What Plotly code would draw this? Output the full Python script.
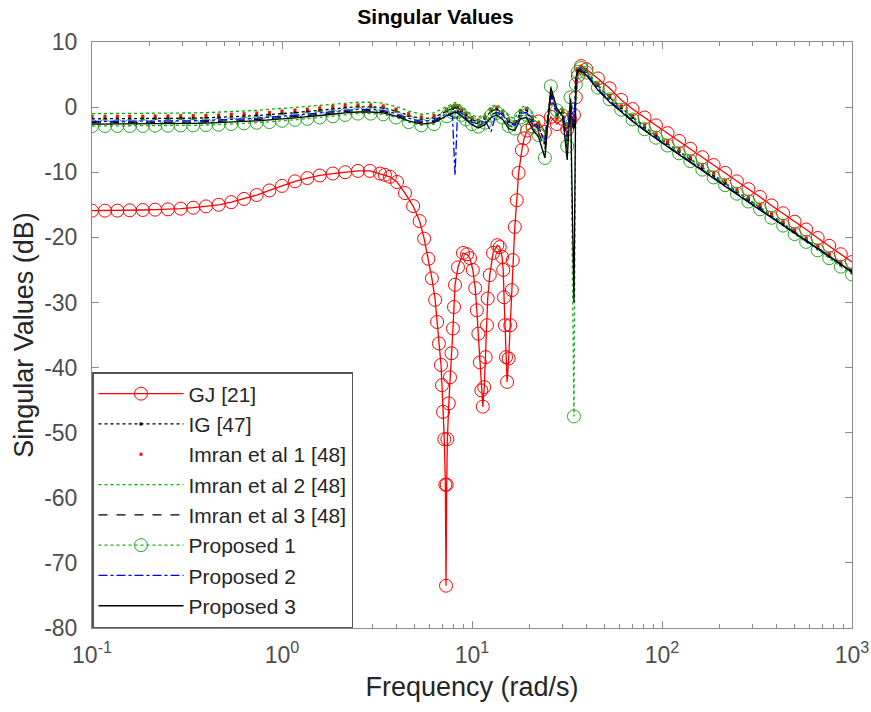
import plotly.graph_objects as go

# ---------------- data ----------------
# GJ [21]
w_gj = [0.1, 0.117, 0.136, 0.158, 0.185, 0.215, 0.251, 0.293, 0.341, 0.398, 0.464, 0.541, 0.631, 0.736, 0.858, 1.0,
        1.17, 1.36, 1.58, 1.85, 2.15, 2.51, 2.9, 3.28, 3.48, 3.7, 4.03, 4.44, 4.9, 5.3, 5.6, 5.9, 6.15, 6.4, 6.55,
        6.7, 6.87, 6.95, 7.04, 7.15, 7.24, 7.3, 7.36, 7.42, 7.55, 7.66, 7.8, 7.94, 8.04, 8.14, 8.44, 8.97, 9.42,
        9.76, 10.1, 10.4, 10.6, 10.8, 11.0, 11.2, 11.4, 11.6, 11.8, 12.0, 12.1, 12.4, 12.9, 13.6, 14.0, 14.4,
        14.6, 14.75, 14.9, 15.1, 15.3, 15.6, 15.9, 16.2, 16.4, 16.8, 17.2, 17.6, 18.3, 18.8, 19.5, 20.9, 22.4,
        24.2, 26.0, 28.0, 30.0, 31.7, 33.0, 34.4, 35.2, 36.1, 37.5,
        40, 46, 53, 61, 70, 81, 93, 107, 123, 141, 163, 187, 215, 248, 285, 328, 377, 434, 499, 574, 660, 759, 873, 1000]
db_gj = [-15.9, -15.9, -15.9, -15.85, -15.8, -15.75, -15.7, -15.6, -15.45, -15.25, -15.0, -14.6, -14.1, -13.5, -12.8, -12.1,
         -11.4, -10.9, -10.5, -10.2, -10.0, -9.8, -9.8, -10.2, -10.4, -10.7, -11.5, -13.2, -15.2, -17.5, -20.2, -23.3, -26.3, -29.6, -33.0,
         -36.3, -39.6, -42.7, -46.8, -51.0, -58.0, -73.5, -58.0, -51.0, -45.5, -41.5, -37.8, -34.0, -30.7, -27.3, -24.6, -22.4, -22.6,
         -23.2, -25.0, -27.8, -31.2, -34.8, -39.2, -43.5, -46.0, -43.0, -38.4, -33.5, -29.4, -25.8, -22.4, -21.2, -21.5, -23.0,
         -25.0, -29.2, -33.5, -38.4, -42.2, -38.6, -33.5, -28.1, -23.5, -18.4, -14.3, -10.1, -6.6, -4.8, -3.6, -3.0, -2.2,
         -3.8, -1.5, -2.6, -1.8, -3.4, -2.0, -1.2, 1.5, 4.8, 6.3,
         5.8, 4.4, 2.9, 1.1, -0.3, -1.6, -2.8, -4.0, -5.2, -6.4, -7.7, -8.9, -10.1, -11.4, -12.6, -13.8, -15.1, -16.3, -17.6, -18.8, -20.1, -21.3, -22.6, -23.8]

# shared frequency grid for the other responses
w_grid = [0.1, 0.117, 0.136, 0.158, 0.185, 0.215, 0.251, 0.293, 0.341, 0.398, 0.464, 0.541, 0.631, 0.736, 0.858, 1.0,
          1.17, 1.36, 1.58, 1.85, 2.15, 2.51, 2.93, 3.41, 3.98, 4.64, 5.41, 6.31, 7.36,
          7.9, 8.14, 8.4, 8.8, 9.3, 10.0, 10.8, 11.7, 12.6, 13.5, 14.5, 15.6, 16.8, 18.0, 19.4, 20.8, 22.4, 24.2, 26.0, 28.0, 30.0, 31.7, 33.0, 34.4, 35.2, 36.0, 37.5,
          40, 46, 53, 61, 70, 81, 93, 107, 123, 141, 163, 187, 215, 248, 285, 328, 377, 434, 499, 574, 660, 759, 873, 1000]

db_ig = [-1.8, -1.8, -1.8, -1.8, -1.8, -1.75, -1.75, -1.7, -1.7, -1.65, -1.6, -1.5, -1.4, -1.3, -1.2, -1.0,
         -0.85, -0.7, -0.5, -0.3, -0.1, 0.05, 0.05, -0.1, -0.6, -1.3, -1.8, -1.6, -0.6,
         -0.2, 0.0, -0.1, -0.6, -1.2, -1.9, -2.3, -1.7, -0.6, -0.3, -1.0, -2.2, -2.6, -0.8, -0.4, -2.0, -3.0, -5.5, 1.5, -1.2, -0.8, -5.0, -0.5, -3.0, 3.0, 5.6, 6.1,
         5.5, 3.3, 1.5, -0.1, -1.6, -3.1, -4.4, -5.6, -6.8, -8.0, -9.3, -10.5, -11.7, -13.0, -14.2, -15.4, -16.7, -17.9, -19.2, -20.4, -21.7, -22.9, -24.2, -25.4]

db_imran1 = [-1.4, -1.4, -1.4, -1.4, -1.4, -1.35, -1.35, -1.3, -1.3, -1.25, -1.2, -1.1, -1.0, -0.9, -0.8, -0.6,
             -0.45, -0.3, -0.1, 0.1, 0.25, 0.35, 0.35, 0.2, -0.3, -1.0, -1.5, -1.3, -0.3,
             0.1, 0.3, 0.2, -0.3, -0.9, -1.6, -2.0, -1.4, -0.3, 0.0, -0.7, -1.8, -2.2, -0.5, -0.2, -1.5, -2.5, -4.5, 0.5, -1.8, -0.5, -3.8, -1.5, -2.0, 3.8, 5.9, 6.3,
             5.8, 3.6, 1.8, 0.2, -1.3, -2.8, -4.1, -5.3, -6.5, -7.7, -9.0, -10.2, -11.4, -12.7, -13.9, -15.1, -16.4, -17.6, -18.9, -20.1, -21.4, -22.6, -23.9, -25.1]

db_imran2 = [-1.0, -1.0, -1.0, -1.0, -1.0, -0.95, -0.95, -0.9, -0.9, -0.85, -0.8, -0.7, -0.6, -0.5, -0.4, -0.2,
             -0.05, 0.1, 0.3, 0.5, 0.65, 0.75, 0.75, 0.6, 0.1, -0.6, -1.1, -0.9, 0.1,
             0.5, 0.7, 0.6, 0.1, -0.5, -1.2, -1.6, -1.0, 0.1, 0.4, -0.3, -1.4, -1.8, -0.1, 0.2, -1.1, -2.0, -4.0, 2.5, -0.8, 0.0, -3.0, 1.0, -1.0, 4.0, 6.0, 6.2,
             5.6, 3.4, 1.6, 0.0, -1.5, -3.0, -4.3, -5.5, -6.7, -7.9, -9.2, -10.4, -11.6, -12.9, -14.1, -15.3, -16.6, -17.8, -19.1, -20.3, -21.6, -22.8, -24.1, -25.3]

db_imran3 = [-2.4, -2.4, -2.4, -2.4, -2.4, -2.35, -2.35, -2.3, -2.3, -2.25, -2.2, -2.1, -2.0, -1.9, -1.8, -1.6,
             -1.45, -1.3, -1.1, -0.9, -0.7, -0.55, -0.55, -0.7, -1.2, -1.9, -2.4, -2.2, -1.2,
             -0.8, -0.6, -0.7, -1.2, -1.8, -2.5, -2.9, -2.3, -1.2, -0.8, -1.5, -2.8, -3.2, -1.4, -1.0, -2.8, -3.9, -6.5, 2.2, -0.6, -1.2, -6.5, 0.5, -4.0, 3.2, 5.5, 5.8,
             5.0, 2.7, 0.9, -0.6, -2.1, -3.5, -4.8, -6.0, -7.2, -8.4, -9.7, -10.9, -12.1, -13.3, -14.5, -15.7, -16.9, -18.1, -19.3, -20.5, -21.7, -22.9, -24.1, -25.2]

db_prop1 = [-2.9, -2.9, -2.9, -2.9, -2.9, -2.85, -2.85, -2.8, -2.8, -2.75, -2.7, -2.6, -2.5, -2.4, -2.3, -2.1,
            -1.95, -1.8, -1.6, -1.4, -1.2, -1.0, -1.0, -1.1, -1.6, -2.3, -2.8, -2.6, -1.4,
            -0.8, -0.6, -0.7, -1.2, -1.9, -2.6, -3.0, -2.4, -1.3, -0.9, -1.6, -2.9, -3.3, -1.6, -1.2, -3.0, -4.3, -7.8, 3.2, -0.5, -1.3, -6.0, 1.5, -47.5, 3.5, 5.4, 6.0,
            5.3, 3.0, 1.2, -0.4, -1.9, -3.4, -4.7, -5.9, -7.1, -8.3, -9.6, -10.8, -12.0, -13.3, -14.5, -15.7, -17.0, -18.2, -19.5, -20.7, -22.0, -23.2, -24.5, -25.7]

db_prop2 = [-2.2, -2.2, -2.2, -2.2, -2.2, -2.15, -2.15, -2.1, -2.1, -2.05, -2.0, -1.9, -1.8, -1.7, -1.6, -1.4,
            -1.25, -1.1, -0.9, -0.7, -0.5, -0.35, -0.35, -0.5, -1.0, -1.7, -2.2, -2.0, -1.0,
            -1.5, -10.5, -0.6, -0.9, -1.6, -2.3, -2.6, -2.0, -3.8, -0.6, -1.2, -2.4, -2.8, -1.0, -0.8, -2.3, -3.4, -5.0, 1.8, -0.8, -1.0, -4.5, 0.8, -2.5, 3.5, 5.6, 5.9,
            5.1, 2.8, 1.0, -0.6, -2.1, -3.5, -4.8, -6.0, -7.2, -8.4, -9.7, -10.9, -12.1, -13.3, -14.5, -15.7, -16.9, -18.1, -19.3, -20.5, -21.7, -22.9, -24.1, -25.3]

db_prop3 = [-2.6, -2.6, -2.6, -2.6, -2.6, -2.55, -2.55, -2.5, -2.5, -2.45, -2.4, -2.3, -2.2, -2.1, -2.0, -1.8,
            -1.65, -1.5, -1.3, -1.1, -0.9, -0.75, -0.75, -0.9, -1.4, -2.1, -2.6, -2.4, -1.3,
            -0.9, -0.8, -0.9, -1.4, -2.0, -2.7, -3.2, -2.7, -1.6, -1.2, -1.9, -3.3, -3.6, -1.8, -1.6, -3.4, -4.6, -7.8, 3.0, -0.2, -1.4, -8.1, 1.2, -30.0, 4.5, 5.7, 5.5,
            4.9, 2.6, 0.8, -0.7, -2.2, -3.6, -4.9, -6.1, -7.3, -8.5, -9.8, -11.0, -12.2, -13.4, -14.6, -15.8, -17.0, -18.2, -19.4, -20.6, -21.8, -23.0, -24.2, -25.3]

x_tickvals = [0.1, 1, 10, 100, 1000]
x_ticktext = ["10<sup>-1</sup>", "10<sup>0</sup>", "10<sup>1</sup>", "10<sup>2</sup>", "10<sup>3</sup>"]
y_tickvals = [10, 0, -10, -20, -30, -40, -50, -60, -70, -80]
y_ticktext = ["10", "0", "-10", "-20", "-30", "-40", "-50", "-60", "-70", "-80"]

# ---------------- figure ----------------
FONT = "Liberation Sans, Arial, Helvetica, sans-serif"
fig = go.Figure()

fig.add_trace(go.Scatter(x=w_gj, y=db_gj, name="GJ [21]", mode="lines+markers",
                         line=dict(color="#ff0000", width=1.3),
                         marker=dict(symbol="circle-open", size=13, color="#ff0000", line=dict(width=1))))
fig.add_trace(go.Scatter(x=w_grid, y=db_ig, name="IG [47]", mode="lines+markers",
                         line=dict(color="#000000", width=1.3, dash="dot"),
                         marker=dict(symbol="square", size=3, color="#000000")))
fig.add_trace(go.Scatter(x=w_grid, y=db_imran1, name="Imran et al 1 [48]", mode="markers",
                         marker=dict(symbol="square", size=3, color="#ff0000")))
fig.add_trace(go.Scatter(x=w_grid, y=db_imran2, name="Imran et al 2 [48]", mode="lines",
                         line=dict(color="#00b000", width=1.3, dash="dot")))
fig.add_trace(go.Scatter(x=w_grid, y=db_imran3, name="Imran et al 3 [48]", mode="lines",
                         line=dict(color="#000000", width=1.3, dash="dash")))
fig.add_trace(go.Scatter(x=w_grid, y=db_prop1, name="Proposed 1", mode="lines+markers",
                         line=dict(color="#22aa22", width=1.3, dash="dot"),
                         marker=dict(symbol="circle-open", size=13, color="#22aa22", line=dict(width=1))))
fig.add_trace(go.Scatter(x=w_grid, y=db_prop2, name="Proposed 2", mode="lines",
                         line=dict(color="#0000ff", width=1.3, dash="dashdot")))
fig.add_trace(go.Scatter(x=w_grid, y=db_prop3, name="Proposed 3", mode="lines",
                         line=dict(color="#000000", width=1.3)))

axis_common = dict(showline=True, linecolor="#8c8c8c", linewidth=1, mirror="allticks",
                   ticks="inside", tickcolor="#8c8c8c", showgrid=False, zeroline=False,
                   tickfont=dict(family=FONT, size=23, color="#4d4d4d"))

fig.update_xaxes(type="log", range=[-1, 3], tickvals=x_tickvals, ticktext=x_ticktext, ticklen=7,
                 ticklabelstandoff=6,
                 minor=dict(ticks="inside", ticklen=4, tickcolor="#8c8c8c",
                            tickvals=[0.2, 0.3, 0.4, 0.5, 0.6, 0.7, 0.8, 0.9, 2, 3, 4, 5, 6, 7, 8, 9,
                                      20, 30, 40, 50, 60, 70, 80, 90, 200, 300, 400, 500, 600, 700, 800, 900]),
                 title=dict(text="Frequency (rad/s)", font=dict(family=FONT, size=27, color="#262626"), standoff=10),
                 **axis_common)
fig.update_yaxes(range=[-80, 10], tickvals=y_tickvals, ticktext=y_ticktext, ticklen=7, ticklabelstandoff=9,
                 title=dict(text="Singular Values (dB)", font=dict(family=FONT, size=27, color="#262626"), standoff=2),
                 **axis_common)

fig.update_layout(
    width=871, height=712,
    margin=dict(l=92, r=19, t=42, b=84, autoexpand=False),
    paper_bgcolor="white", plot_bgcolor="white",
    font=dict(family=FONT),
    title=dict(text="<b>Singular Values</b>", x=0.5, xref="container", xanchor="center",
               y=0.977, yref="container", yanchor="middle",
               font=dict(family=FONT, size=21, color="#000000")),
    legend=dict(x=0, y=0, xanchor="left", yanchor="bottom", bgcolor="white",
                bordercolor="#555555", borderwidth=1.5, itemwidth=85, entrywidth=260,
                font=dict(family=FONT, size=21, color="#262626"), tracegroupgap=0),
    showlegend=True,
)

fig.write_html("out.html")
